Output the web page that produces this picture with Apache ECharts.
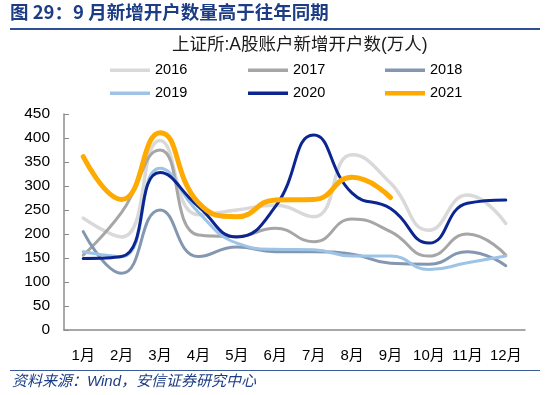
<!DOCTYPE html>
<html>
<head>
<meta charset="utf-8">
<script src="https://cdn.jsdelivr.net/npm/echarts@6/dist/echarts.min.js"></script>
<style>
html,body{margin:0;padding:0;background:#fff;}
#chart{width:550px;height:395px;}
</style>
</head>
<body>
<div id="chart"></div>
<script>
const months = ['1月','2月','3月','4月','5月','6月','7月','8月','9月','10月','11月','12月'];
const s2016 = [233, 194, 395, 240, 250, 260, 236, 365, 306, 208, 281, 222];
const s2017 = [156, 245, 375, 198, 195, 212, 184, 231, 205, 154, 200, 156];
const s2018 = [205, 118, 250, 153, 173, 163, 163, 158, 139, 137, 163, 134];
const s2019 = [163, 153, 337, 245, 181, 168, 167, 154, 154, 126, 140, 154];
const s2020 = [149, 153, 328, 257, 194, 257, 406, 285, 253, 181, 264, 271];
const s2021 = [361, 272, 411, 265, 236, 271, 272, 318, 276];
const yTicks = [0, 450, 50];

const FONT = '"Liberation Sans", Arial, "Noto Sans CJK SC", sans-serif';
const chart = echarts.init(document.getElementById('chart'));

const seriesDefs = [
  {name:'2016', data:s2016, color:'#d9d9d9', width:3.5, legendH:3.5},
  {name:'2017', data:s2017, color:'#a6a6a6', width:3, legendH:3.5},
  {name:'2018', data:s2018, color:'#8497b0', width:3, legendH:3.5},
  {name:'2019', data:s2019, color:'#9dc3e6', width:3, legendH:3.5},
  {name:'2020', data:s2020, color:'#0b2690', width:3, legendH:3.5},
  {name:'2021', data:s2021, color:'#ffaa00', width:5, legendH:4.5}
];
const legendPos = [
  {left:110, top:63}, {left:248, top:63}, {left:385, top:63},
  {left:110, top:86}, {left:248, top:86}, {left:385, top:86}
];

chart.setOption({
  animation:false,
  backgroundColor:'#fff',
  textStyle:{fontFamily:FONT},
  legend: seriesDefs.map((s,i)=>({
    data:[{name:s.name, icon:'rect'}], left:legendPos[i].left, top:legendPos[i].top,
    itemWidth:40, itemHeight:s.legendH, itemGap:0, padding:0,
    textStyle:{fontSize:14.5, color:'#000', fontFamily:FONT},
    selectedMode:false
  })),
  grid:{left:64, right:25, top:114, bottom:65},
  xAxis:{
    type:'category', data:months, boundaryGap:true,
    axisLine:{lineStyle:{color:'#8c8c8c', width:1.5}},
    axisTick:{inside:true, length:5, lineStyle:{color:'#8c8c8c'}},
    axisLabel:{fontSize:15, color:'#000', margin:18, interval:0, fontFamily:FONT},
    splitLine:{show:false}
  },
  yAxis:{
    type:'value', min:yTicks[0], max:yTicks[1], interval:yTicks[2],
    axisLine:{show:true, lineStyle:{color:'#8c8c8c', width:1.5}},
    axisTick:{show:true, inside:true, length:5, lineStyle:{color:'#8c8c8c'}},
    axisLabel:{fontSize:15.5, color:'#000', margin:14, fontFamily:FONT},
    splitLine:{show:false}
  },
  series: seriesDefs.map(s=>({
    name:s.name, type:'line', data:s.data, smooth:0.5, showSymbol:false, symbol:'none',
    lineStyle:{color:s.color, width:s.width, cap:'round'},
    itemStyle:{color:s.color}
  })),
  graphic:[
    {type:'text', left:10, top:3, style:{text:'图 29：9 月新增开户数量高于往年同期', font:'bold 18.5px "Noto Sans CJK SC", "Liberation Sans", sans-serif', fill:'#1c3d85'}},
    {type:'rect', shape:{x:10, y:28, width:530, height:2}, style:{fill:'#2e4f94'}},
    {type:'text', left:172, top:36, style:{text:'上证所:A股账户新增开户数(万人)', font:'17.5px "Liberation Sans", "Noto Sans CJK SC", sans-serif', fill:'#1a1a1a'}},
    {type:'rect', shape:{x:10, y:370, width:530, height:1}, style:{fill:'#3a5a9a'}},
    {type:'text', left:12, top:374, style:{text:'资料来源：Wind，安信证券研究中心', font:'italic 15px "Liberation Sans", "Noto Sans CJK SC", sans-serif', fill:'#1c3d85'}}
  ]
});
</script>
</body>
</html>
